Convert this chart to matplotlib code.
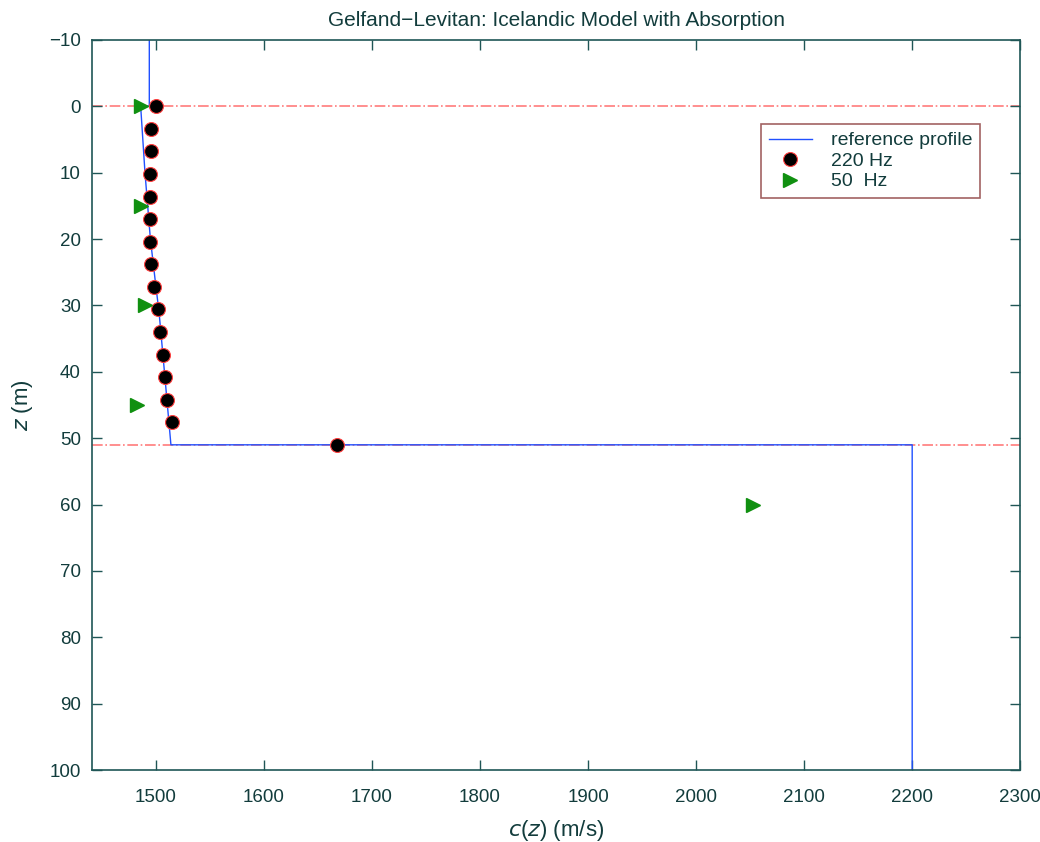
import numpy as np
import matplotlib.pyplot as plt

plt.rcParams['font.family'] = ['Liberation Sans', 'DejaVu Sans']

# reference sound-speed profile (c in m/s, z in m)
ref_c = [1494, 1494, 1486, 1490, 1495, 1500, 1503, 1508, 1514, 1514, 2200, 2200]
ref_z = [-10, 0, 0, 10, 20, 27, 31, 40, 51, 51, 51, 100]

# 220 Hz reconstruction
c_220 = [1500, 1495.7, 1495.7, 1494.8, 1494.8, 1494.2, 1494.8, 1495.4,
         1498.5, 1501.6, 1504, 1506.8, 1508.6, 1510.5, 1515.4, 1668]
z_220 = [0, 3.4, 6.8, 10.2, 13.6, 17, 20.4, 23.8, 27.2, 30.6, 34, 37.4,
         40.8, 44.2, 47.6, 51]

# 50 Hz reconstruction
c_50 = [1486, 1486, 1490, 1483, 2053]
z_50 = [0, 15, 30, 45, 60]

# layer interfaces
interfaces = [0, 51]

frame = '#1f5656'
text_col = '#123c3c'

fig = plt.figure(figsize=(10.4, 8.42), dpi=100)
ax = fig.add_axes([0.0885, 0.0855, 0.8925, 0.867])

for zi in interfaces:
    ax.axhline(zi, color='#ff5a5a', linestyle='-.', linewidth=1.2, alpha=0.8, zorder=1)

ax.plot(ref_c, ref_z, color='#2050ff', linewidth=1.0, label='reference profile', zorder=2)
ax.plot(c_220, z_220, linestyle='none', marker='o', markersize=10,
        markerfacecolor='black', markeredgecolor='#ff4040', markeredgewidth=0.8,
        label='220 Hz', zorder=3)
ax.plot(c_50, z_50, linestyle='none', marker='>', markersize=10,
        markerfacecolor='#109010', markeredgecolor='#109010',
        label='50  Hz', zorder=3)

ax.set_xlim(1441, 2300)
ax.set_ylim(100, -10)
ax.set_xticks(np.arange(1500, 2301, 100))
ax.set_yticks(np.arange(-10, 101, 10))
ax.tick_params(direction='in', top=True, right=True, length=7, width=1,
               color=frame, labelcolor=text_col, labelsize=13.5)
ax.tick_params(axis='x', pad=14)
ax.tick_params(axis='y', pad=8)
for s in ax.spines.values():
    s.set_color(frame)
    s.set_linewidth(1.2)

ax.set_title('Gelfand\u2212Levitan: Icelandic Model with Absorption',
             fontsize=15, color=text_col, pad=10)
ax.set_xlabel('$c$($z$) (m/s)', fontsize=16, color=text_col, labelpad=8)
ax.set_ylabel('$z$ (m)', fontsize=16, color=text_col, labelpad=10)

leg = ax.legend(loc='upper right', bbox_to_anchor=(0.957, 0.885), fontsize=14,
                frameon=True, fancybox=False, borderaxespad=0, handlelength=2.2,
                handletextpad=1.0, labelspacing=0.15, borderpad=0.4)
leg.get_frame().set_edgecolor('#8a3a3a')
leg.get_frame().set_linewidth(1.2)
for t in leg.get_texts():
    t.set_color(text_col)

fig.savefig('out.png', dpi=100)
